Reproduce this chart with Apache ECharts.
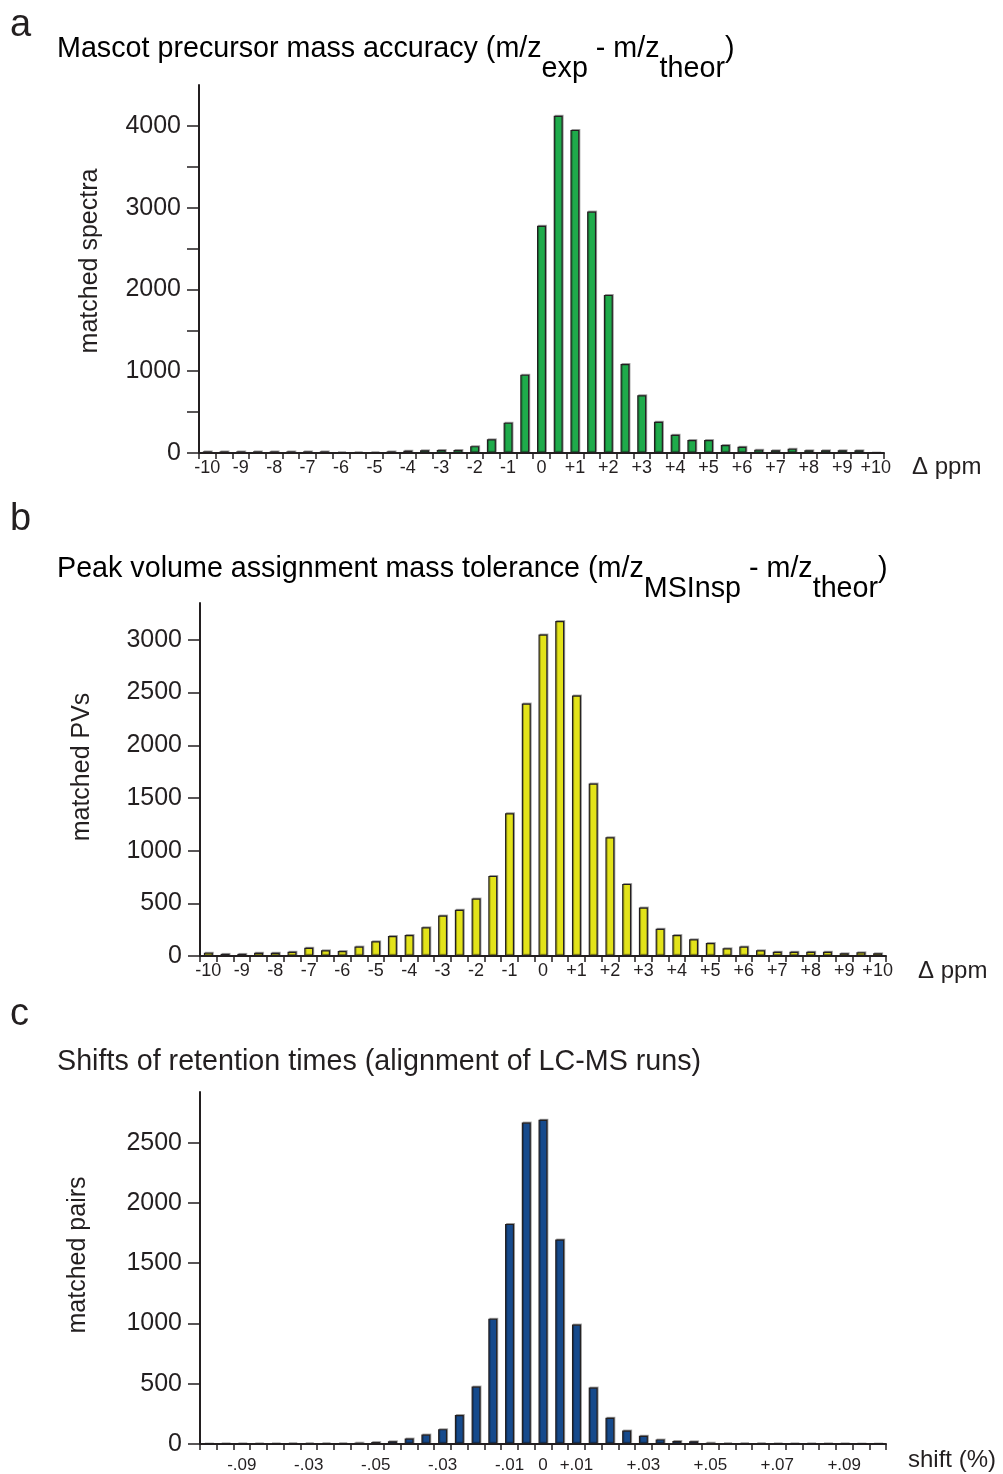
<!DOCTYPE html>
<html>
<head>
<meta charset="utf-8">
<script src="https://cdn.jsdelivr.net/npm/echarts@6/dist/echarts.min.js"></script>
<style>
  html, body { margin: 0; padding: 0; background: #fff; }
  #main { width: 1003px; height: 1474px; }
</style>
</head>
<body>
<div id="main"></div>
<script>
// bins (ppm), -10 .. +10 in steps of 0.5
var ppmBins = ['-10', '-9.5', '-9', '-8.5', '-8', '-7.5', '-7', '-6.5', '-6', '-5.5',
  '-5', '-4.5', '-4', '-3.5', '-3', '-2.5', '-2', '-1.5', '-1', '-0.5', '0',
  '0.5', '1', '1.5', '2', '2.5', '3', '3.5', '4', '4.5', '5', '5.5', '6', '6.5',
  '7', '7.5', '8', '8.5', '9', '9.5', '10'];

// a: Mascot precursor mass accuracy
var mascotCounts = [20, 20, 20, 20, 20, 20, 20, 20, 12, 12,
  12, 20, 28, 33, 38, 38, 84, 167, 371, 958, 2778,
  4123, 3951, 2952, 1933, 1089, 707, 381, 222, 159, 159, 98, 77, 41,
  33, 53, 33, 33, 33, 33, 0];

// b: peak volume assignment mass tolerance
var pvCounts = [32, 20, 20, 30, 30, 41, 79, 54, 47, 89,
  139, 190, 199, 272, 385, 438, 545, 760, 1355, 2396, 3051,
  3178, 2472, 1636, 1127, 684, 460, 258, 199, 158, 123, 73, 89, 54,
  41, 41, 41, 41, 25, 35, 25];

// c: retention time shift (%), -0.1 .. +0.1 in steps of 0.005
var shiftBins = ['-0.100', '-0.095', '-0.090', '-0.085', '-0.080', '-0.075', '-0.070',
  '-0.065', '-0.060', '-0.055', '-0.050', '-0.045', '-0.040', '-0.035', '-0.030',
  '-0.025', '-0.020', '-0.015', '-0.010', '-0.005', '0', '0.005', '0.010', '0.015',
  '0.020', '0.025', '0.030', '0.035', '0.040', '0.045', '0.050', '0.055', '0.060',
  '0.065', '0.070', '0.075', '0.080', '0.085', '0.090', '0.095', '0.100'];
var shiftLabels = ['', '', '-.09', '', '', '', '-.03', '', '', '', '-.05', '', '', '',
  '-.03', '', '', '', '-.01', '', '0', '', '+.01', '', '', '', '+.03', '', '', '',
  '+.05', '', '', '', '+.07', '', '', '', '+.09', '', ''];
var pairCounts = [0, 2, 2, 4, 3, 5, 8, 8, 8, 11,
  16, 22, 45, 78, 123, 240, 476, 1040, 1826, 2666, 2690,
  1697, 991, 468, 218, 112, 68, 38, 25, 22, 11, 8, 5, 5,
  3, 2, 2, 1, 1, 0, 0];

// y ticks
var aTicks = [0, 500, 1000, 1500, 2000, 2500, 3000, 3500, 4000];
var aLabels = [0, 1000, 2000, 3000, 4000];
var bTicks = [0, 500, 1000, 1500, 2000, 2500, 3000];
var cTicks = [0, 500, 1000, 1500, 2000, 2500];

var FONT = "'Liberation Sans', Arial, Helvetica, sans-serif";
var INK = '#231f20';

function ppmLabel(v) {
  var n = parseFloat(v);
  if (n % 1 !== 0) return '';
  return n > 0 ? '+' + n : String(n);
}

function xAxisOf(idx, data, formatter, labelSize, margin) {
  return {
    type: 'category',
    gridIndex: idx,
    data: data,
    boundaryGap: true,
    axisLine: { show: true, lineStyle: { color: INK, width: 2 } },
    axisTick: { show: true, interval: 0, inside: false, length: 6, lineStyle: { color: INK, width: 1.5 } },
    axisLabel: {
      interval: 0, margin: margin, fontSize: labelSize, color: INK,
      fontFamily: FONT, formatter: formatter
    },
    splitLine: { show: false }
  };
}

function yAxisOf(idx, max, ticks, labels) {
  return {
    type: 'value',
    gridIndex: idx,
    min: 0,
    max: max,
    axisLine: { show: true, lineStyle: { color: INK, width: 2 } },
    axisTick: { show: true, length: 12, customValues: ticks, lineStyle: { color: INK, width: 1.5 } },
    axisLabel: {
      customValues: labels, margin: 18, fontSize: 25, color: INK, fontFamily: FONT,
      formatter: function (v) { return String(v); }
    },
    splitLine: { show: false }
  };
}

function barSeries(idx, data, color) {
  return {
    type: 'bar',
    xAxisIndex: idx,
    yAxisIndex: idx,
    data: data,
    barWidth: 9,
    itemStyle: {
      color: color,
      borderColor: INK,
      borderWidth: 1.2,
      shadowColor: 'rgba(0,0,0,0.3)',
      shadowOffsetX: 1,
      shadowOffsetY: -1
    }
  };
}

var TSIZE = 28.7;
var titleRich = {
  m: { fontSize: TSIZE, fontFamily: FONT, color: INK, lineHeight: 30, verticalAlign: 'top' },
  s: { fontSize: TSIZE, fontFamily: FONT, color: INK, lineHeight: 49, verticalAlign: 'bottom' }
};

function txt(x, y, text, size, extra) {
  var o = {
    type: 'text', x: x, y: y,
    style: { text: text, font: size + 'px ' + FONT, fill: INK, verticalAlign: 'middle' }
  };
  if (extra) {
    for (var k in extra) o[k] = extra[k];
  }
  return o;
}

var myChart = echarts.init(document.getElementById('main'), null, { renderer: 'canvas' });

var option = {
  animation: false,
  backgroundColor: '#fff',
  grid: [
    { left: 199, top: 85, width: 685, height: 368 },
    { left: 200, top: 603, width: 686, height: 353 },
    { left: 200, top: 1092, width: 686, height: 357 }
  ],
  xAxis: [
    xAxisOf(0, ppmBins, ppmLabel, 18, 6),
    xAxisOf(1, ppmBins, ppmLabel, 18, 6),
    xAxisOf(2, shiftBins, function (v, i) { return shiftLabels[i]; }, 17, 13)
  ],
  yAxis: [
    yAxisOf(0, 4500, aTicks, aLabels),
    yAxisOf(1, 3350, bTicks, bTicks),
    yAxisOf(2, 2920, cTicks, cTicks)
  ],
  series: [
    barSeries(0, mascotCounts, '#1fab4b'),
    barSeries(1, pvCounts, '#e3e31a'),
    barSeries(2, pairCounts, '#164a8c')
  ],
  graphic: [
    txt(10, 26, 'a', 38),
    txt(10, 520, 'b', 38),
    txt(10, 1015, 'c', 38),
    {
      type: 'text', x: 57, y: 35,
      style: {
        text: '{m|Mascot precursor mass accuracy (m/z}{s|exp}{m| - m/z}{s|theor}{m|)}',
        rich: titleRich,
        verticalAlign: 'top'
      }
    },
    {
      type: 'text', x: 57, y: 555,
      style: {
        text: '{m|Peak volume assignment mass tolerance (m/z}{s|MSInsp}{m| - m/z}{s|theor}{m|)}',
        rich: titleRich,
        verticalAlign: 'top'
      }
    },
    txt(57, 1062, 'Shifts of retention times (alignment of LC-MS runs)', TSIZE),
    txt(90, 261, 'matched spectra', 25, { rotation: Math.PI / 2 }),
    txt(82, 767, 'matched PVs', 25, { rotation: Math.PI / 2 }),
    txt(78, 1255, 'matched pairs', 25, { rotation: Math.PI / 2 }),
    txt(912, 467, '\u0394 ppm', 24),
    txt(918, 971, '\u0394 ppm', 24),
    txt(908, 1460, 'shift (%)', 24)
  ]
};

// rotated names are centred on their point
option.graphic.forEach(function (g) {
  if (g.rotation) g.style.align = 'center';
});

myChart.setOption(option);
</script>
</body>
</html>
